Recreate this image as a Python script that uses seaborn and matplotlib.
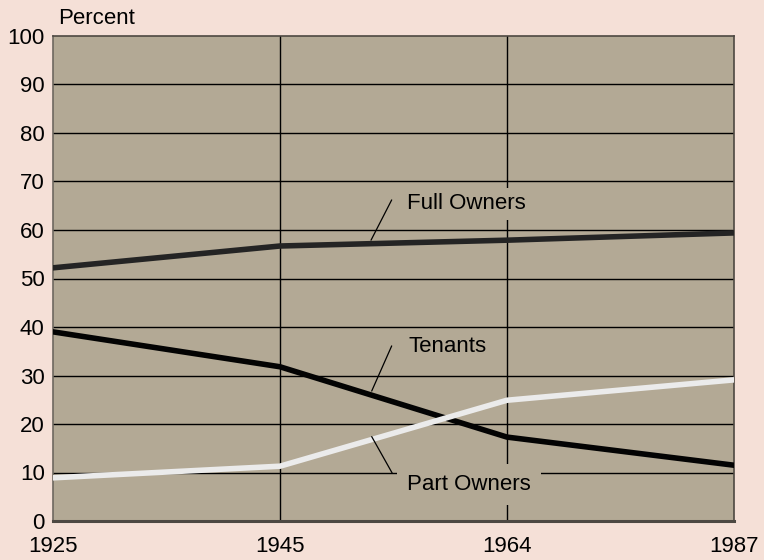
import pandas as pd
import matplotlib.pyplot as plt
import seaborn as sns

# Data
years = ["1925", "1945", "1964", "1987"]
full_owners = [52.2, 56.7, 57.9, 59.4]
tenants = [39.0, 31.8, 17.3, 11.5]
part_owners = [8.9, 11.3, 24.9, 29.1]

series = {"Full Owners": full_owners, "Tenants": tenants, "Part Owners": part_owners}
rows = []
for name, vals in series.items():
    for i, v in enumerate(vals):
        rows.append({"pos": i, "year": years[i], "series": name, "percent": v})
df = pd.DataFrame(rows)

bg = "#f5e0d7"
plot_bg = "#b3a995"
colors = {"Full Owners": "#242424", "Tenants": "#030303", "Part Owners": "#ebebeb"}

sns.set_style("white")
plt.rcParams["font.family"] = ["Liberation Sans", "DejaVu Sans"]
plt.rcParams["text.color"] = "black"

fig = plt.figure(figsize=(7.64, 5.6), dpi=100, facecolor=bg)
ax = fig.add_axes([53 / 764, 1 - 521 / 560, (734 - 53) / 764, (521 - 36) / 560])
ax.set_facecolor(plot_bg)

# grid
for y in range(10, 100, 10):
    ax.axhline(y, color="black", lw=1.0, zorder=1)
for x in [1, 2]:
    ax.axvline(x, color="black", lw=1.0, zorder=1)

sns.lineplot(data=df, x="pos", y="percent", hue="series", palette=colors,
             linewidth=4.0, legend=False, ax=ax, zorder=3)

ax.set_xlim(0, 3)
ax.set_ylim(0, 100)
ax.set_xticks(range(len(years)))
ax.set_xticklabels(years)
ax.set_yticks(range(0, 101, 10))
ax.tick_params(axis="both", length=0, labelsize=16, colors="black")
ax.tick_params(axis="x", pad=11)
ax.tick_params(axis="y", pad=6)
ax.set_xlabel("")
ax.set_ylabel("")

for s in ["top", "right"]:
    ax.spines[s].set_color("#4d4842")
    ax.spines[s].set_linewidth(1.2)
ax.spines["left"].set_color("#6e6860")
ax.spines["left"].set_linewidth(1.2)
ax.spines["bottom"].set_color("#4d4842")
ax.spines["bottom"].set_linewidth(2.2)

fig.text(58 / 764, 1 - 19 / 560, "Percent", fontsize=16, va="center", ha="left", color="black")

box = dict(facecolor=plot_bg, edgecolor="none", pad=4)
# labels with leader lines
ax.text(1.56, 64.3, "Full Owners", fontsize=16, ha="left", va="baseline", bbox=box, zorder=4)
ax.plot([1.401, 1.492], [57.9, 66.2], color="black", lw=0.9, zorder=4)

ax.text(1.564, 34.8, "Tenants", fontsize=16, ha="left", va="baseline", bbox=box, zorder=4)
ax.plot([1.404, 1.492], [26.8, 36.1], color="black", lw=0.9, zorder=4)

ax.text(1.56, 6.4, "Part Owners", fontsize=16, ha="left", va="baseline",
        bbox=dict(facecolor=plot_bg, edgecolor="none", pad=7), zorder=4)
ax.plot([1.404, 1.494], [17.4, 9.9], color="black", lw=0.9, zorder=4)

fig.savefig("out.png", dpi=100, facecolor=bg)
